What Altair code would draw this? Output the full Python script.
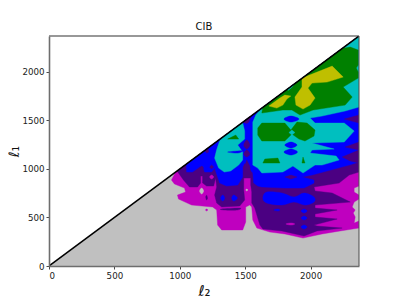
import altair as alt
import pandas as pd

MAX_L = 2370
TICKS = [0, 500, 1000, 1500, 2000]
SILVER, MAGENTA, INDIGO, BLUE, CYAN, GREEN, YELLOW = (
    "#c0c0c0", "#bf00bf", "#4b0082", "#0000ff", "#00bfbf", "#008000", "#bfbf00")

base_region = [(0, 0), (2370, 0), (2370, 2370)]
magenta_main = [(968,968),(936,886),(959,845),(1036,803),(1044,762),(982,731),(990,690),(1090,628),(1251,608),(1282,577),(1289,422),(1320,371),(1481,371),(1504,453),(1504,608),(1535,628),(1550,608),(1558,474),(1589,391),(1688,350),(1803,330),(1942,288),(2088,330),(2226,361),(2370,391),(2370,464),(2333,443),(2341,505),(2326,546),(2341,577),(2318,608),(2333,659),(2370,690),(2370,731),(2333,762),(2333,803),(2370,824),(2370,2370)]
silver_spots = [
    [(1151,773),(1167,803),(1182,773),(1167,742)],
    [(1504,783),(1512,793),(1520,783),(1512,773)],
]
magenta_spot_low = [(1196,577),(1205,587),(1214,577),(1205,567)]
indigo_main = [(979,979),(1028,886),(1074,814),(1136,814),(1159,855),(1159,927),(1174,927),(1174,855),(1205,824),(1259,824),(1274,906),(1282,814),(1266,731),(1282,649),(1320,608),(1458,618),(1496,680),(1489,783),(1489,906),(1542,906),(1542,834),(1550,762),(1550,649),(1573,597),(1612,422),(1635,381),(1780,361),(1950,309),(2049,361),(2241,391),(2049,412),(2026,422),(2203,484),(2034,505),(2034,536),(2203,577),(2034,597),(2034,628),(2303,659),(2165,752),(2034,773),(2026,814),(2218,855),(2295,937),(2370,968),(2370,2370)]
indigo_low_bits = [
    [(1320,587),(1458,597),(1440,577),(1340,577)],
    [(1198,710),(1205,730),(1212,700),(1205,680)],
]
magenta_in_indigo = [
    [(1811,433),(1850,443),(1880,433),(1850,422)],
    [(1228,917),(1243,937),(1259,917),(1243,896)],
]
blue_main = [(1050,1050),(1052,968),(1097,968),(1151,1020),(1174,1030),(1190,968),(1243,968),(1266,1009),(1305,855),(1358,824),(1443,834),(1481,917),(1481,1020),(1496,1061),(1558,958),(1565,855),(1596,824),(1627,814),(1803,803),(1950,803),(2026,855),(2026,886),(1934,917),(2011,937),(2295,1040),(2370,1071),(2370,2370)]
blue_lobe = [(1665,762),(1780,752),(1873,711),(1950,752),(2026,711),(2026,659),(1957,628),(1873,659),(1780,628),(1665,649),(1635,700)]
blue_dots = [
    [(1719,577),(1750,587),(1765,577),(1750,567)],
    [(1927,567),(1950,587),(1973,567),(1950,546)],
    [(1927,494),(1950,515),(1973,494),(1950,474)],
    [(1927,402),(1950,422),(1973,402),(1950,381)],
    [(1312,700),(1328,731),(1343,700),(1328,669)],
    [(1397,700),(1412,731),(1440,700),(1412,669)],
]
indigo_in_blue = [
    [(1803,917),(1850,937),(1896,917),(1850,896)],
    [(2257,1514),(2370,1555),(2370,1473)],
    [(2264,1226),(2370,1277),(2370,1195)],
    [(2241,1123),(2370,1195),(2370,1061),(2303,1082)],
    [(1512,1092),(1535,1030),(1542,948),(1489,948),(1496,1030)],
    [(1151,1009),(1167,1030),(1182,1009),(1167,989)],
    [(1228,1020),(1243,1040),(1259,1020),(1243,999)],
    [(1190,1190),(1215,1215),(1220,1174),(1205,1164)],
]
cyan_right = [(2370,2370),(2370,1638),(2264,1597),(2088,1545),(1996,1524),(2034,1473),(2257,1473),(2333,1390),(2257,1277),(2011,1267),(2180,1205),(2011,1195),(1996,1164),(2195,1133),(2218,1092),(2088,1040),(2034,1040),(1942,958),(1865,1030),(1788,968),(1627,958),(1596,1009),(1558,1040),(1558,1483),(1581,1555),(1620,1620)]
cyan_left = [(1328,1328),(1480,1480),(1496,1390),(1496,1308),(1443,1246),(1481,1174),(1481,1092),(1450,1040),(1389,979),(1340,968),(1297,1009),(1266,1112),(1282,1200),(1305,1290)]
blue_in_cyan = [
    [(1366,1174),(1443,1185),(1481,1185),(1443,1164)],
    [(1796,1514),(1850,1545),(1911,1514),(1850,1483)],
    [(1803,1246),(1850,1277),(1896,1246),(1850,1215)],
    [(1796,1174),(1850,1205),(1900,1174),(1850,1143)],
]
indigo_column = [
    [(1512,1298),(1535,1246),(1512,1205),(1489,1246)],
    [(1512,1195),(1535,1154),(1512,1123),(1489,1154)],
    [(1490,1490),(1540,1540),(1530,1490),(1510,1470)],
]
green_top = [(1635,1635),(1627,1576),(1788,1607),(1857,1607),(1919,1555),(2019,1607),(2264,1658),(2318,1741),(2249,1844),(2364,1936),(2364,1998),(2349,2039),(2364,2070),(2364,2225),(2303,2256),(2240,2240)]
green_mid = [(1596,1421),(1627,1473),(1803,1473),(1849,1401),(1896,1483),(1973,1473),(2034,1401),(2026,1339),(1957,1288),(1911,1308),(1857,1360),(1803,1288),(1627,1288),(1596,1349)]
green_bits = [
    [(1635,1061),(1650,1102),(1750,1112),(1765,1061)],
    [(1934,1061),(1942,1123),(1957,1061)],
    [(1366,1308),(1428,1349),(1450,1308)],
]
cyan_bits = [
    [(1834,1375),(1857,1401),(1880,1375),(1857,1349)],
    [(1819,1819),(1880,1880),(1860,1845),(1830,1810)],
]
yellow_a = [(1681,1648),(1765,1730),(1803,1761),(1849,1751),(1819,1720),(1788,1658),(1742,1627)]
yellow_b = [(1934,1936),(2165,2060),(2249,1947),(2126,1895),(2011,1885),(1980,1833),(2034,1730),(1996,1658),(1942,1617),(1888,1658),(1880,1741),(1934,1844)]

shapes = [(SILVER, base_region, False), (MAGENTA, magenta_main, False)]
shapes += [(SILVER, s, True) for s in silver_spots] + [(MAGENTA, magenta_spot_low, True)]
shapes += [(INDIGO, indigo_main, False)] + [(INDIGO, s, True) for s in indigo_low_bits]
shapes += [(MAGENTA, s, True) for s in magenta_in_indigo]
shapes += [(BLUE, blue_main, False), (BLUE, blue_lobe, True)] + [(BLUE, s, True) for s in blue_dots]
shapes += [(INDIGO, s, False) for s in indigo_in_blue]
shapes += [(CYAN, cyan_right, False), (CYAN, cyan_left, False)]
shapes += [(BLUE, s, True) for s in blue_in_cyan] + [(INDIGO, s, True) for s in indigo_column]
shapes += [(GREEN, green_top, False), (GREEN, green_mid, False)] + [(GREEN, s, False) for s in green_bits]
shapes += [(CYAN, s, False) for s in cyan_bits]
shapes += [(YELLOW, yellow_a, False), (YELLOW, yellow_b, False)]

x_scale = alt.Scale(domain=[0, MAX_L], nice=False, zero=False)
y_scale = alt.Scale(domain=[0, MAX_L], nice=False, zero=False)
AXIS_FONT = "DejaVu Sans"
x_enc = alt.X("l2:Q", scale=x_scale, axis=alt.Axis(
    values=TICKS, title="ℓ₂", grid=False, format="d", labelFont=AXIS_FONT, labelFontSize=8.7,
    labelColor="#222222", tickColor="#333333", tickSize=3, tickWidth=0.9, labelPadding=2,
    domainColor="#6e6e6e", domainWidth=1.6, titleFont=AXIS_FONT, titleFontSize=15,
    titleColor="#111111", titleFontWeight="normal", titlePadding=4, zindex=1))
y_enc = alt.Y("l1:Q", scale=y_scale, axis=alt.Axis(
    values=TICKS, title="ℓ₁", grid=False, format="d", labelFont=AXIS_FONT, labelFontSize=8.7,
    labelColor="#222222", tickColor="#333333", tickSize=3, tickWidth=0.9, labelPadding=2,
    domainColor="#6e6e6e", domainWidth=1.6, titleFont=AXIS_FONT, titleFontSize=14,
    titleColor="#111111", titleFontWeight="normal", titlePadding=0, zindex=1))

layers = []
for colour, pts, smooth in shapes:
    frame = pd.DataFrame(pts if smooth else pts + pts[:1], columns=["l2", "l1"])
    frame["i"] = range(len(frame))
    mark = alt.Chart(frame).mark_line(
        fill=colour, stroke=colour, strokeWidth=0.4, clip=True,
        interpolate="cardinal-closed" if smooth else "linear")
    layers.append(mark.encode(x=x_enc, y=y_enc, order="i:Q"))

diagonal = pd.DataFrame({"l2": [0, MAX_L], "l1": [0, MAX_L]})
layers.append(alt.Chart(diagonal).mark_line(color="black", strokeWidth=1.5, clip=True).encode(x=x_enc, y=y_enc))
layers.append(alt.Chart().mark_rule(color="#333333", strokeWidth=1.1).encode(
    x=alt.value(0), x2=alt.value(310), y=alt.value(0)))
layers.append(alt.Chart().mark_rule(color="#555555", strokeWidth=1.1).encode(
    x=alt.value(310), y=alt.value(0), y2=alt.value(230)))

chart = alt.layer(*layers).properties(
    width=310, height=230,
    title=alt.TitleParams("CIB", font=AXIS_FONT, fontSize=10, fontWeight="normal", color="#111111", offset=3),
    autosize=alt.AutoSizeParams(type="none"),
    padding={"left": 41, "top": 28, "right": 32, "bottom": 33},
).configure_view(stroke=None)

chart.save("out.html", embed_options={"renderer": "svg", "actions": False})
